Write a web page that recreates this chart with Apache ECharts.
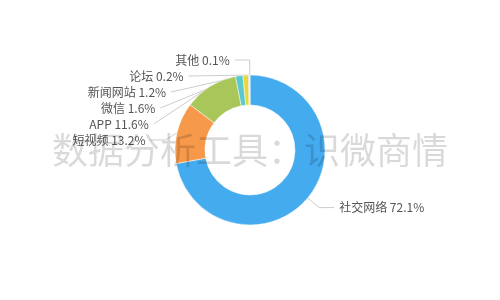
<!DOCTYPE html>
<html><head><meta charset="utf-8">
<script src="https://cdn.jsdelivr.net/npm/echarts@6/dist/echarts.min.js"></script>
<style>html,body{margin:0;padding:0;background:#fff}#c{width:500px;height:300px}</style>
</head><body><div id="c"></div>
<script>
var categories = ['社交网络','短视频','APP','微信','新闻网站','论坛','其他'];
var values = [72.1, 13.2, 11.6, 1.6, 1.2, 0.2, 0.1];
var colors = ['#45abef','#f7994b','#a8c65a','#5bc9cc','#e8d63e','#b8b8b8','#c8c8c8'];
var watermark = '数据分析工具：识微商情';

var chart = echarts.init(document.getElementById('c'), null, {renderer:'canvas'});
chart.setOption({
  animation:false,
  color: colors,
  series:[{
    type:'pie',
    radius:['30%','50%'],
    center:['50%','50%'],
    startAngle:90,
    data: categories.map(function(n,i){return {name:n, value:values[i]};}),
    label:{
      formatter: function(p){return p.name + ' ' + p.value + '%';},
      color:'#555',
      fontSize:12,
      lineHeight:14,
      fontFamily:'Noto Sans CJK SC'
    },
    labelLine:{length:15,length2:15,lineStyle:{color:'#ccc',width:1}},
    itemStyle:{borderColor:'#fff',borderWidth:0.5}
  }],
  graphic:[{
    type:'text',
    left:'center',
    top:'middle',
    z:100,
    style:{text:watermark, font:'36px "Noto Sans CJK SC"', fill:'rgba(0,0,0,0.15)'}
  }]
});
</script></body></html>
